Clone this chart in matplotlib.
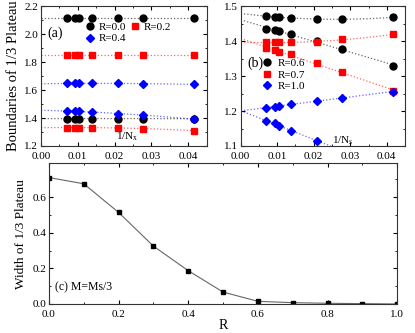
import numpy as np
import matplotlib
matplotlib.use("Agg")
import matplotlib.pyplot as plt
from matplotlib.ticker import MultipleLocator, FormatStrFormatter

plt.rcParams['font.family'] = ['Liberation Serif', 'DejaVu Serif']
plt.rcParams['mathtext.fontset'] = 'stix'

# system sizes N_x -> x = 1/N_x
nx = np.array([144, 108, 96, 72, 48, 36, 24])
inv_n = 1.0 / nx

# panel (a): upper / lower boundaries
a_r00_up = [2.116, 2.116, 2.116, 2.116, 2.116, 2.116, 2.116]
a_r00_lo = [1.396, 1.396, 1.396, 1.396, 1.396, 1.396, 1.395]
a_r02_up = [1.849, 1.849, 1.849, 1.849, 1.849, 1.849, 1.849]
a_r02_lo = [1.332, 1.332, 1.332, 1.331, 1.328, 1.325, 1.310]
a_r04_up = [1.647, 1.647, 1.647, 1.647, 1.647, 1.646, 1.640]
a_r04_lo = [1.448, 1.448, 1.448, 1.443, 1.432, 1.420, 1.391]

# panel (b)
b_r06_up = [1.471, 1.469, 1.469, 1.467, 1.463, 1.462, 1.468]
b_r06_lo = [1.436, 1.431, 1.429, 1.420, 1.400, 1.378, 1.329]
b_r07_up = [1.396, 1.396, 1.396, 1.396, 1.398, 1.405, 1.419]
b_r07_lo = [1.379, 1.374, 1.369, 1.362, 1.338, 1.312, 1.257]
b_r10_up = [1.209, 1.212, 1.214, 1.220, 1.229, 1.238, 1.255]
b_r10_lo = [1.171, 1.165, 1.158, 1.144, 1.115]

# panel (c): plateau width vs R
r_vals = [0.0, 0.1, 0.2, 0.3, 0.4, 0.5, 0.6, 0.7, 0.8, 0.9, 1.0]
width = [0.710, 0.675, 0.514, 0.325, 0.187, 0.067, 0.015, 0.0075, 0.004, 0.002, 0.0]

fig = plt.figure(figsize=(4.15, 3.33), dpi=100)
ax_a = fig.add_axes([0.0988, 0.5616, 0.399, 0.420])
ax_b = fig.add_axes([0.580, 0.5616, 0.396, 0.420])
ax_c = fig.add_axes([0.118, 0.0871, 0.839, 0.4225])

xfit = np.linspace(0, 0.042, 100)


def series(ax, x, y, color, marker, ms, label=None, deg=2):
    x = np.asarray(x)[:len(y)]
    c = np.polyfit(x, y, deg)
    ax.plot(xfit, np.polyval(c, xfit), ls=':', lw=0.9, color=color, alpha=0.6)
    ax.plot(x, y, ls='none', marker=marker, ms=ms, color=color, mec=color,
            label=label)


def style(ax, fmt_x, fmt_y):
    ax.tick_params(which='both', direction='in', top=True, right=True,
                   labelsize=8)
    ax.tick_params(axis='x', pad=4)
    ax.tick_params(axis='y', pad=2)
    ax.tick_params(which='major', length=3)
    ax.tick_params(which='minor', length=1.5)
    ax.xaxis.set_major_formatter(FormatStrFormatter(fmt_x))
    ax.yaxis.set_major_formatter(FormatStrFormatter(fmt_y))
    for s in ax.spines.values():
        s.set_linewidth(0.8)
        s.set_color('#333333')


# (a)
series(ax_a, inv_n, a_r00_up, 'black', 'o', 5, 'R=0.0')
series(ax_a, inv_n, a_r00_lo, 'black', 'o', 5)
series(ax_a, inv_n, a_r02_up, 'red', 's', 4.5, 'R=0.2')
series(ax_a, inv_n, a_r02_lo, 'red', 's', 4.5)
series(ax_a, inv_n, a_r04_up, 'blue', 'D', 4.5, 'R=0.4')
series(ax_a, inv_n, a_r04_lo, 'blue', 'D', 4.5)
ax_a.set_xlim(0, 0.045)
ax_a.set_ylim(1.2, 2.2)
ax_a.xaxis.set_major_locator(MultipleLocator(0.01))
ax_a.xaxis.set_minor_locator(MultipleLocator(0.005))
ax_a.yaxis.set_major_locator(MultipleLocator(0.2))
ax_a.yaxis.set_minor_locator(MultipleLocator(0.1))
style(ax_a, '%.2f', '%.1f')
ax_a.set_ylabel('Boundaries of 1/3 Plateau', fontsize=10.5, labelpad=3)
ax_a.text(0.036, 0.807, '(a)', transform=ax_a.transAxes, fontsize=10,
          ha='left', va='center')
ax_a.text(0.519, 0.064, r'1/N$_{\rm x}$', transform=ax_a.transAxes,
          fontsize=8, ha='center', va='center')
h, l = ax_a.get_legend_handles_labels()
order = [0, 2, 1]
ax_a.legend([h[i] for i in order], [l[i] for i in order], ncol=2,
            loc='upper left', bbox_to_anchor=(0.27, 0.885), frameon=False,
            fontsize=8, handlelength=0.8, handletextpad=0.35,
            columnspacing=0.45, labelspacing=0.15, borderpad=0,
            borderaxespad=0)

# (b)
series(ax_b, inv_n, b_r06_up, 'black', 'o', 5, 'R=0.6')
series(ax_b, inv_n, b_r06_lo, 'black', 'o', 5, deg=1)
series(ax_b, inv_n, b_r07_up, 'red', 's', 4.5, 'R=0.7')
series(ax_b, inv_n, b_r07_lo, 'red', 's', 4.5, deg=1)
series(ax_b, inv_n, b_r10_up, 'blue', 'D', 4.5, 'R=1.0', deg=1)
series(ax_b, inv_n, b_r10_lo, 'blue', 'D', 4.5, deg=1)
ax_b.set_xlim(0, 0.045)
ax_b.set_ylim(1.1, 1.5)
ax_b.xaxis.set_major_locator(MultipleLocator(0.01))
ax_b.xaxis.set_minor_locator(MultipleLocator(0.005))
ax_b.yaxis.set_major_locator(MultipleLocator(0.1))
ax_b.yaxis.set_minor_locator(MultipleLocator(0.05))
style(ax_b, '%.2f', '%.1f')
ax_b.text(0.038, 0.593, '(b)', transform=ax_b.transAxes, fontsize=10,
          ha='left', va='center')
ax_b.text(0.623, 0.035, r'1/N$_{\rm s}$', transform=ax_b.transAxes,
          fontsize=8, ha='center', va='center')
ax_b.legend(loc='upper left', bbox_to_anchor=(0.135, 0.625), frameon=False,
            fontsize=8, handlelength=0.8, handletextpad=0.5,
            labelspacing=0.15, borderpad=0, borderaxespad=0)

# (c)
ax_c.plot(r_vals, width, color='#666666', lw=0.8, marker='s', ms=3.5,
          mfc='black', mec='black')
ax_c.set_xlim(0, 1.0)
ax_c.set_ylim(0, 0.79)
ax_c.xaxis.set_major_locator(MultipleLocator(0.2))
ax_c.xaxis.set_minor_locator(MultipleLocator(0.1))
ax_c.yaxis.set_major_locator(MultipleLocator(0.2))
ax_c.yaxis.set_minor_locator(MultipleLocator(0.1))
style(ax_c, '%.1f', '%.1f')
ax_c.set_xlabel('R', fontsize=10, labelpad=0)
ax_c.set_ylabel('Width of 1/3 Plateau', fontsize=9.5, labelpad=4)
ax_c.text(0.017, 0.121, '(c) M=Ms/3', transform=ax_c.transAxes, fontsize=8.5,
          ha='left', va='center')

fig.savefig('out.png', dpi=100)
